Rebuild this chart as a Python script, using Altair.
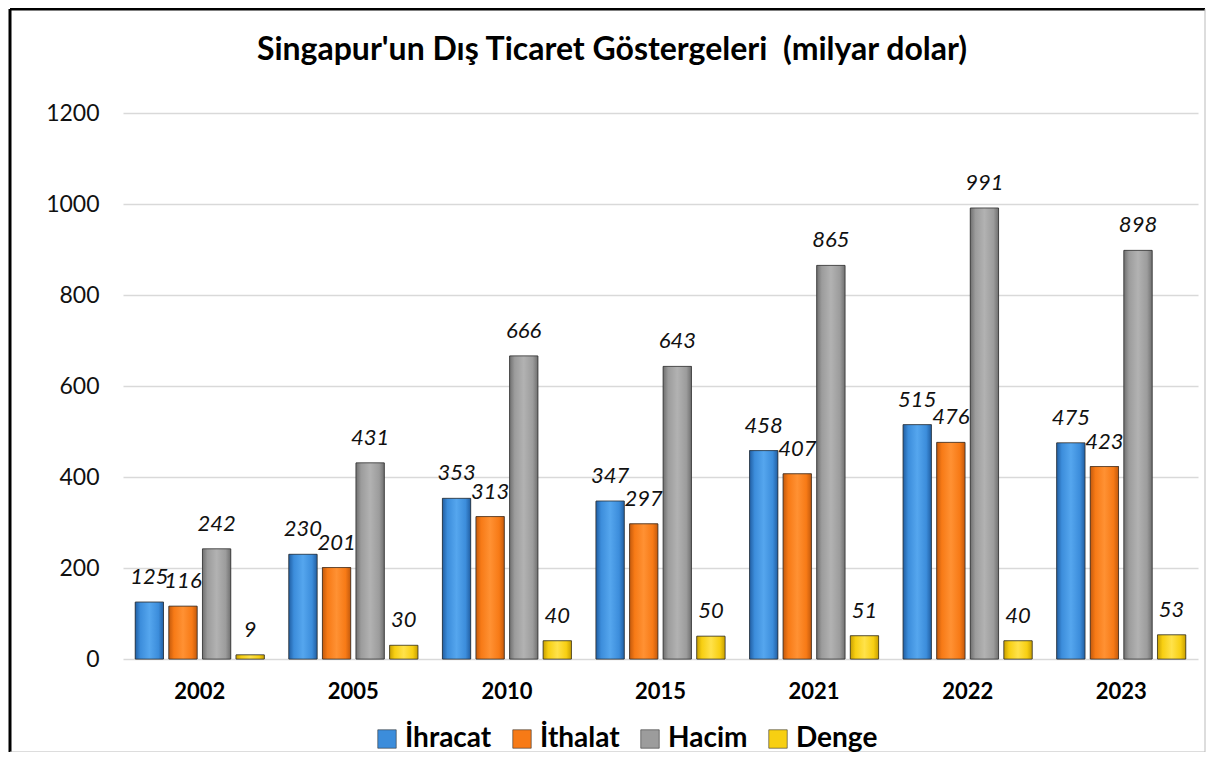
import altair as alt
import pandas as pd

title_text = "Singapur'un Dış Ticaret Göstergeleri \u00a0(milyar dolar)"
years = ["2002", "2005", "2010", "2015", "2021", "2022", "2023"]
series = ["İhracat", "İthalat", "Hacim", "Denge"]
ihracat = [125, 230, 353, 347, 458, 515, 475]
ithalat = [116, 201, 313, 297, 407, 476, 423]
hacim = [242, 431, 666, 643, 865, 991, 898]
denge = [9, 30, 40, 50, 51, 40, 53]
colors = ["#3C8DDB", "#F77A16", "#9C9C9C", "#F7CF12"]
edge_colors = ["#215FA3", "#C45A0C", "#707070", "#C9A000"]
light_colors = ["#55A6EE", "#FF9133", "#B2B2B2", "#FFE24A"]

rows = []
for name, vals in zip(series, [ihracat, ithalat, hacim, denge]):
    for y, v in zip(years, vals):
        rows.append({"year": y, "series": name, "value": v})
df = pd.DataFrame(rows)

FONT = "Lato"
W, H = 1075, 546

base = alt.Chart(df).encode(
    x=alt.X("year:N", sort=years, title=None,
            scale=alt.Scale(paddingInner=0.16, paddingOuter=0.08),
            axis=alt.Axis(labelFont=FONT, labelFontSize=22, labelFontWeight="bold",
                          labelColor="#000", labelPadding=22, labelAngle=0,
                          domain=False, ticks=False, grid=False)),
    xOffset=alt.XOffset("series:N", sort=series, scale=alt.Scale(paddingInner=0.16)),
)

yenc = alt.Y("value:Q", title=None,
             scale=alt.Scale(domain=[0, 1200], nice=False),
             axis=alt.Axis(values=[0, 200, 400, 600, 800, 1000, 1200], format="d",
                           labelFont=FONT, labelFontSize=23, labelColor="#111",
                           labelPadding=24, domain=False, ticks=False,
                           gridColor="#D9D9D9", gridWidth=1.5))

bars = base.mark_bar(stroke="#303030", strokeWidth=0.6).encode(
    y=yenc,
    color=alt.Color("series:N", sort=series,
                    scale=alt.Scale(domain=series, range=colors),
                    legend=alt.Legend(title=None, orient="none", direction="horizontal",
                                      legendX=250, legendY=612,
                                      labelFont=FONT, labelFontSize=28, labelFontWeight="bold",
                                      labelColor="#000", symbolType="square", symbolSize=340,
                                      symbolStrokeColor="#333", symbolStrokeWidth=0.6,
                                      columnPadding=16, labelOffset=4)),
)

shade_layers = []
for name, edge, mid, light in zip(series, edge_colors, colors, light_colors):
    grad = alt.Gradient(
        gradient="linear", x1=0, x2=1, y1=0, y2=0,
        stops=[alt.GradientStop(color=edge, offset=0),
               alt.GradientStop(color=mid, offset=0.18),
               alt.GradientStop(color=light, offset=0.5),
               alt.GradientStop(color=mid, offset=0.82),
               alt.GradientStop(color=edge, offset=1)])
    shade_layers.append(
        base.transform_filter(alt.datum.series == name)
        .mark_bar(color=grad, stroke="#2A2A2A", strokeWidth=0.6)
        .encode(y=alt.Y("value:Q"))
    )

labels = base.mark_text(font=FONT, fontSize=22, fontStyle="italic", color="#111",
                        baseline="bottom", dy=-13).encode(
    y=alt.Y("value:Q"),
    text=alt.Text("value:Q"),
)

one = pd.DataFrame({"t": [title_text]})
title_mark = alt.Chart(one).mark_text(font=FONT, fontSize=32, fontWeight="bold",
                                      color="#000", align="center", baseline="middle").encode(
    x=alt.value(489), y=alt.value(-63), text="t:N")
frame_left = alt.Chart(one).mark_rule(color="#000", strokeWidth=3).encode(
    x=alt.value(-113), y=alt.value(-104), y2=alt.value(H + 93))
frame_top = alt.Chart(one).mark_rule(color="#000", strokeWidth=3).encode(
    x=alt.value(-113), x2=alt.value(W + 7), y=alt.value(-104))
frame_right = alt.Chart(one).mark_rule(color="#BBB", strokeWidth=1).encode(
    x=alt.value(W + 7), y=alt.value(-104), y2=alt.value(H + 93))
frame_bottom = alt.Chart(one).mark_rule(color="#BBB", strokeWidth=1).encode(
    x=alt.value(-113), x2=alt.value(W + 7), y=alt.value(H + 93))

chart = alt.layer(bars, *shade_layers, labels, title_mark,
                  frame_left, frame_top, frame_right, frame_bottom).properties(
    width=W, height=H,
    background="#FFFFFF",
    autosize=alt.AutoSizeParams(type="none"),
    padding={"left": 115, "top": 105, "right": 9, "bottom": 93},
).configure_view(stroke=None)

chart.save("out.html", embed_options={"renderer": "svg", "actions": False})
